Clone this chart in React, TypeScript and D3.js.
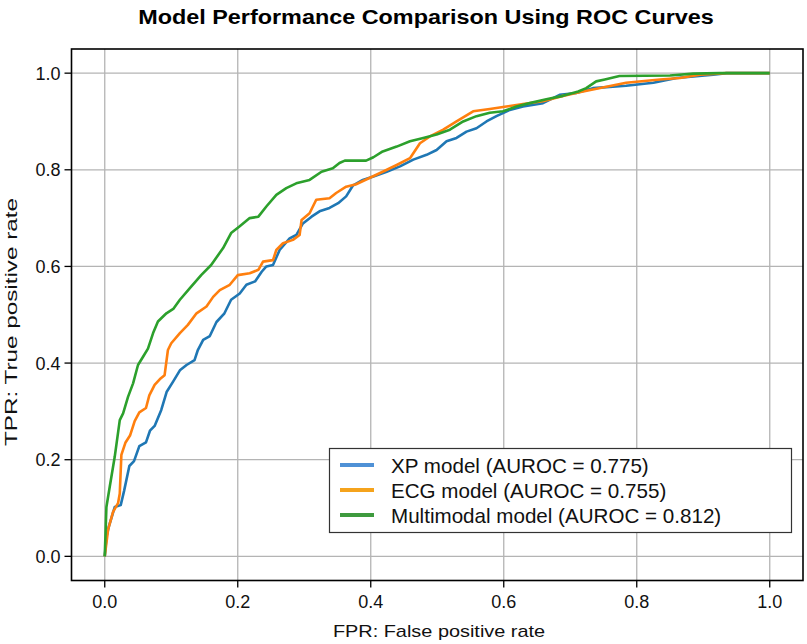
import { useEffect, useRef } from 'react';
import * as d3 from 'd3';

// ROC points [fpr, tpr]
const xpRoc: [number, number][] = [
  [0, 0], [0.0025, 0.04], [0.006, 0.061], [0.015, 0.102], [0.024, 0.106], [0.029, 0.135],
  [0.037, 0.187], [0.044, 0.197], [0.052, 0.228], [0.062, 0.236], [0.068, 0.26], [0.075, 0.27],
  [0.085, 0.303], [0.093, 0.34], [0.103, 0.362], [0.113, 0.385], [0.123, 0.396], [0.135, 0.406],
  [0.14, 0.427], [0.148, 0.448], [0.158, 0.456], [0.168, 0.485], [0.18, 0.503], [0.19, 0.531],
  [0.203, 0.544], [0.213, 0.562], [0.226, 0.569], [0.236, 0.589], [0.243, 0.6], [0.253, 0.603],
  [0.263, 0.634], [0.278, 0.658], [0.288, 0.665], [0.298, 0.689], [0.311, 0.703], [0.323, 0.714],
  [0.338, 0.721], [0.351, 0.731], [0.363, 0.745], [0.373, 0.767], [0.388, 0.779], [0.404, 0.786],
  [0.424, 0.796], [0.444, 0.807], [0.464, 0.821], [0.484, 0.831], [0.499, 0.841], [0.514, 0.859],
  [0.529, 0.866], [0.544, 0.879], [0.559, 0.886], [0.574, 0.9], [0.589, 0.911], [0.609, 0.924],
  [0.629, 0.931], [0.659, 0.938], [0.684, 0.955], [0.709, 0.959], [0.734, 0.969], [0.784, 0.974],
  [0.825, 0.98], [0.86, 0.99], [0.915, 0.997], [0.935, 1.0], [1, 1],
];

const ecgRoc: [number, number][] = [
  [0, 0], [0.005, 0.055], [0.0125, 0.092], [0.02, 0.11], [0.0226, 0.13], [0.025, 0.21],
  [0.031, 0.235], [0.038, 0.25], [0.045, 0.28], [0.052, 0.298], [0.062, 0.307], [0.067, 0.333],
  [0.075, 0.355], [0.083, 0.367], [0.09, 0.375], [0.095, 0.427], [0.1, 0.441], [0.113, 0.462],
  [0.125, 0.479], [0.138, 0.503], [0.153, 0.517], [0.163, 0.537], [0.173, 0.551], [0.188, 0.562],
  [0.2, 0.582], [0.218, 0.586], [0.231, 0.593], [0.238, 0.61], [0.253, 0.613], [0.258, 0.634],
  [0.268, 0.648], [0.283, 0.655], [0.293, 0.665], [0.296, 0.696], [0.308, 0.71], [0.318, 0.738],
  [0.338, 0.741], [0.348, 0.752], [0.363, 0.765], [0.378, 0.77], [0.398, 0.783], [0.418, 0.796],
  [0.439, 0.81], [0.459, 0.824], [0.474, 0.855], [0.489, 0.869], [0.509, 0.883], [0.529, 0.9],
  [0.554, 0.921], [0.579, 0.926], [0.604, 0.931], [0.629, 0.936], [0.659, 0.942], [0.689, 0.953],
  [0.712, 0.96], [0.734, 0.966], [0.784, 0.98], [0.835, 0.987], [0.865, 0.99], [0.895, 0.997],
  [0.935, 1.0], [1, 1],
];

const multiRoc: [number, number][] = [
  [0, 0], [0.0025, 0.102], [0.0075, 0.144], [0.015, 0.206], [0.0226, 0.282], [0.0276, 0.296],
  [0.035, 0.33], [0.0426, 0.358], [0.05, 0.396], [0.0576, 0.413], [0.065, 0.43], [0.0727, 0.462],
  [0.08, 0.486], [0.0927, 0.503], [0.103, 0.512], [0.113, 0.531], [0.128, 0.555], [0.145, 0.582],
  [0.16, 0.603], [0.178, 0.638], [0.19, 0.669], [0.203, 0.683], [0.218, 0.7], [0.231, 0.703],
  [0.243, 0.724], [0.258, 0.748], [0.273, 0.762], [0.288, 0.772], [0.308, 0.779], [0.326, 0.796],
  [0.343, 0.803], [0.353, 0.814], [0.361, 0.819], [0.393, 0.819], [0.404, 0.826], [0.418, 0.838],
  [0.439, 0.848], [0.459, 0.859], [0.479, 0.866], [0.499, 0.873], [0.519, 0.883], [0.539, 0.9],
  [0.559, 0.911], [0.579, 0.918], [0.599, 0.921], [0.619, 0.931], [0.639, 0.938], [0.664, 0.946],
  [0.689, 0.953], [0.712, 0.962], [0.724, 0.969], [0.739, 0.983], [0.752, 0.987], [0.774, 0.994],
  [0.85, 0.995], [0.885, 0.999], [0.925, 1.0], [1, 1],
];

const seriesNames = [
  'XP model (AUROC = 0.775)',
  'ECG model (AUROC = 0.755)',
  'Multimodal model (AUROC = 0.812)',
];
const lineColors = ['#1f77b4', '#ff7f0e', '#2ca02c'];
const legendColors = ['#4f91d6', '#f5a31c', '#3e9a3e'];
const xTicks = [0, 0.2, 0.4, 0.6, 0.8, 1.0];
const yTicks = [0, 0.2, 0.4, 0.6, 0.8, 1.0];

const FONT = '"Liberation Sans", Arial, Helvetica, sans-serif';

export default function App() {
  const svgRef = useRef<SVGSVGElement>(null);

  useEffect(() => {
    const W = 807, H = 644;
    const svg = d3.select(svgRef.current);
    svg.selectAll('*').remove();
    svg.attr('width', W).attr('height', H).attr('viewBox', `0 0 ${W} ${H}`);

    const left = 71.5, right = 803, top = 49, bottom = 580.5;
    const x = d3.scaleLinear().domain([-0.05, 1.05]).range([left, right]);
    const y = d3.scaleLinear().domain([-0.05, 1.05]).range([bottom, top]);

    svg.append('rect').attr('width', W).attr('height', H).attr('fill', '#fff');

    // grid
    xTicks.forEach(v => {
      svg.append('line')
        .attr('x1', x(v)).attr('x2', x(v)).attr('y1', top).attr('y2', bottom)
        .attr('stroke', '#b4b4b4').attr('stroke-width', 1.3);
    });
    yTicks.forEach(v => {
      svg.append('line')
        .attr('x1', left).attr('x2', right).attr('y1', y(v)).attr('y2', y(v))
        .attr('stroke', '#b4b4b4').attr('stroke-width', 1.3);
    });

    // curves (XP, ECG, multimodal on top)
    const line = d3.line<[number, number]>().x(d => x(d[0])).y(d => y(d[1]));
    [xpRoc, ecgRoc, multiRoc].forEach((data, i) => {
      svg.append('path')
        .datum(data)
        .attr('d', line)
        .attr('fill', 'none')
        .attr('stroke', lineColors[i])
        .attr('stroke-width', 2.6)
        .attr('stroke-linejoin', 'round');
    });

    // frame
    svg.append('rect')
      .attr('x', left).attr('y', top).attr('width', right - left).attr('height', bottom - top)
      .attr('fill', 'none').attr('stroke', '#000').attr('stroke-width', 1.6);

    // ticks
    xTicks.forEach(v => {
      svg.append('line')
        .attr('x1', x(v)).attr('x2', x(v)).attr('y1', bottom).attr('y2', bottom + 7)
        .attr('stroke', '#000').attr('stroke-width', 1.3);
      svg.append('text')
        .attr('x', x(v)).attr('y', bottom + 27)
        .attr('text-anchor', 'middle')
        .attr('font-family', FONT).attr('font-size', 18).attr('fill', '#111')
        .text(d3.format('.1f')(v));
    });
    yTicks.forEach(v => {
      svg.append('line')
        .attr('x1', left - 7).attr('x2', left).attr('y1', y(v)).attr('y2', y(v))
        .attr('stroke', '#000').attr('stroke-width', 1.3);
      svg.append('text')
        .attr('x', left - 11).attr('y', y(v) + 6.5)
        .attr('text-anchor', 'end')
        .attr('font-family', FONT).attr('font-size', 18).attr('fill', '#111')
        .text(d3.format('.1f')(v));
    });

    // axis labels
    svg.append('text')
      .attr('transform', 'translate(439,637) scale(1.17,1)')
      .attr('text-anchor', 'middle')
      .attr('font-family', FONT).attr('font-size', 17).attr('fill', '#111')
      .text('FPR: False positive rate');
    svg.append('text')
      .attr('transform', 'translate(17,322) rotate(-90)')
      .attr('text-anchor', 'middle')
      .attr('textLength', 248).attr('lengthAdjust', 'spacingAndGlyphs')
      .attr('font-family', FONT).attr('font-size', 16).attr('fill', '#111')
      .text('TPR: True positive rate');

    // title
    svg.append('text')
      .attr('transform', 'translate(426,24) scale(1.17,1)')
      .attr('text-anchor', 'middle')
      .attr('font-family', FONT).attr('font-size', 20).attr('font-weight', 'bold').attr('fill', '#000')
      .text('Model Performance Comparison Using ROC Curves');

    // legend
    const lg = svg.append('g');
    lg.append('rect')
      .attr('x', 329.5).attr('y', 448.5).attr('width', 462).attr('height', 84)
      .attr('fill', '#fff').attr('stroke', '#333').attr('stroke-width', 1.2);
    seriesNames.forEach((name, i) => {
      const cy = 465 + i * 25;
      lg.append('line')
        .attr('x1', 340).attr('x2', 374).attr('y1', cy).attr('y2', cy)
        .attr('stroke', legendColors[i]).attr('stroke-width', 4);
      lg.append('text')
        .attr('x', 391).attr('y', cy + 7.5)
        .attr('font-family', FONT).attr('font-size', 20.6).attr('fill', '#111')
        .text(name);
    });
  }, []);

  return (
    <svg
      ref={svgRef}
      style={{ position: 'absolute', left: 0, top: 0, display: 'block' }}
      role="img"
      aria-label="Model Performance Comparison Using ROC Curves"
    />
  );
}
